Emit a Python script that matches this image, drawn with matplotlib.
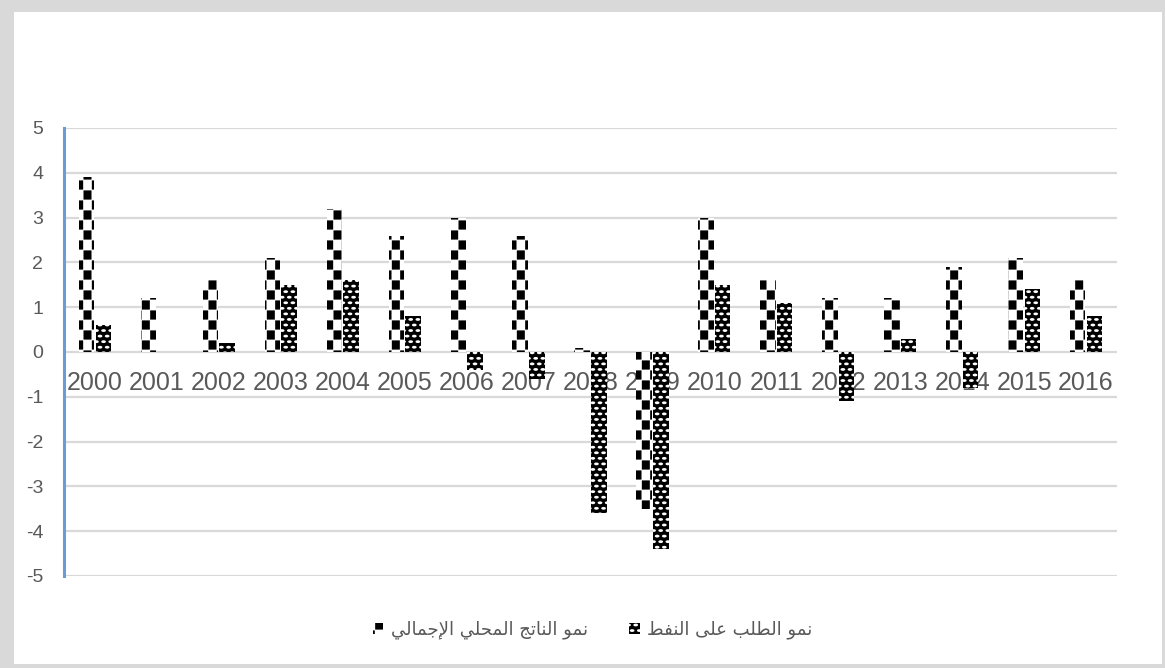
import numpy as np
import matplotlib
matplotlib.use("Agg")
import matplotlib.pyplot as plt
import matplotlib.hatch as mhatch
from matplotlib.path import Path
from matplotlib.patches import Rectangle, Patch

# ---------------- data ----------------
years = ["2000", "2001", "2002", "2003", "2004", "2005", "2006", "2007", "2008",
         "2009", "2010", "2011", "2012", "2013", "2014", "2015", "2016"]
gdp_growth = [3.9, 1.2, 1.6, 2.1, 3.2, 2.6, 3.0, 2.6, 0.1, -3.5, 3.0, 1.6, 1.2, 1.2, 1.9, 2.1, 1.6]
oil_demand_growth = [0.6, 0.0, 0.2, 1.5, 1.6, 0.8, -0.4, -0.6, -3.6, -4.4, 1.5, 1.1, -1.1, 0.3, -0.8, 1.4, 0.8]
y_ticks = [-5, -4, -3, -2, -1, 0, 1, 2, 3, 4, 5]
label_gdp = "نمو الناتج المحلي الإجمالي"
label_oil = "نمو الطلب على النفط"


# ---------------- custom hatch patterns ----------------
class CheckerHatch(mhatch.HatchPatternBase):
    """Two-column staggered squares (Excel 'large checker' look), on '*'."""
    nx, ny = 6, 5

    def __init__(self, hatch, density):
        self.on = '*' in hatch
        self.num_vertices = self.nx * self.ny * 2 * 5 if self.on else 0

    def set_vertices_and_codes(self, vertices, codes):
        px, py = 1.0 / self.nx, 1.0 / self.ny
        pts = []
        for i in range(self.nx):
            for j in range(self.ny):
                for ox, oy in [(0.0, 0.0), (0.5, 0.5)]:
                    x0 = (i + ox) * px + 0.01 * px
                    x1 = x0 + 0.48 * px
                    y0 = (j + oy) * py + 0.02 * py
                    y1 = y0 + 0.46 * py
                    pts += [(x0, y0), (x1, y0), (x1, y1), (x0, y1), (x0, y0)]
        vertices[:] = pts
        codes[:] = [Path.MOVETO, Path.LINETO, Path.LINETO, Path.LINETO,
                    Path.CLOSEPOLY] * (self.nx * self.ny * 2)


class ConfettiHatch(mhatch.HatchPatternBase):
    """Staggered small ovals (drawn white on black), on '.'."""
    nx, ny = 14, 18
    nseg = 10

    def _centers(self):
        px, py = 1.0 / self.nx, 1.0 / self.ny
        cs = []
        for j in range(self.ny):
            if j % 2 == 0:
                cols = [(i + 0.5) * px for i in range(self.nx)]
            else:
                cols = [i * px for i in range(self.nx + 1)]
            for c in cols:
                cs.append((c, (j + 0.5) * py))
        return cs

    def __init__(self, hatch, density):
        self.on = '.' in hatch
        self.num_vertices = len(self._centers()) * (self.nseg + 1) if self.on else 0

    def set_vertices_and_codes(self, vertices, codes):
        px, py = 1.0 / self.nx, 1.0 / self.ny
        rx, ry = 0.34 * px, 0.26 * py
        t = np.linspace(0, 2 * np.pi, self.nseg, endpoint=False)
        pts, cds = [], []
        for cx, cy in self._centers():
            for k in range(self.nseg):
                pts.append((cx + rx * np.cos(t[k]), cy + ry * np.sin(t[k])))
            pts.append((cx + rx, cy))
            cds += [Path.MOVETO] + [Path.LINETO] * (self.nseg - 1) + [Path.CLOSEPOLY]
        vertices[:] = pts
        codes[:] = cds


mhatch._hatch_types[:] = [CheckerHatch, ConfettiHatch]
plt.rcParams['hatch.linewidth'] = 0.01


# ---------------- minimal Arabic shaping ----------------
FORMS = {
    '\u0627': ('\uFE8D', '\uFE8E', None, None),
    '\u0625': ('\uFE87', '\uFE88', None, None),
    '\u0628': ('\uFE8F', '\uFE90', '\uFE91', '\uFE92'),
    '\u062A': ('\uFE95', '\uFE96', '\uFE97', '\uFE98'),
    '\u062C': ('\uFE9D', '\uFE9E', '\uFE9F', '\uFEA0'),
    '\u062D': ('\uFEA1', '\uFEA2', '\uFEA3', '\uFEA4'),
    '\u0637': ('\uFEC1', '\uFEC2', '\uFEC3', '\uFEC4'),
    '\u0639': ('\uFEC9', '\uFECA', '\uFECB', '\uFECC'),
    '\u0641': ('\uFED1', '\uFED2', '\uFED3', '\uFED4'),
    '\u0644': ('\uFEDD', '\uFEDE', '\uFEDF', '\uFEE0'),
    '\u0645': ('\uFEE1', '\uFEE2', '\uFEE3', '\uFEE4'),
    '\u0646': ('\uFEE5', '\uFEE6', '\uFEE7', '\uFEE8'),
    '\u0648': ('\uFEED', '\uFEEE', None, None),
    '\u0649': ('\uFEEF', '\uFEF0', None, None),
    '\u064A': ('\uFEF1', '\uFEF2', '\uFEF3', '\uFEF4'),
    'LA': ('\uFEFB', '\uFEFC', None, None),
    'LAI': ('\uFEF9', '\uFEFA', None, None),
}


def shape_arabic(text):
    units, i = [], 0
    while i < len(text):
        c = text[i]
        if c == '\u0644' and i + 1 < len(text) and text[i + 1] in ('\u0627', '\u0625'):
            units.append('LA' if text[i + 1] == '\u0627' else 'LAI')
            i += 2
        else:
            units.append(c)
            i += 1
    out = []
    for k, u in enumerate(units):
        if u not in FORMS:
            out.append(u)
            continue
        f = FORMS[u]
        prev = units[k - 1] if k > 0 else None
        nxt = units[k + 1] if k + 1 < len(units) else None
        jp = prev in FORMS and FORMS[prev][2] is not None
        jn = nxt in FORMS and f[2] is not None
        if jp and jn:
            out.append(f[3])
        elif jp:
            out.append(f[1])
        elif jn:
            out.append(f[2])
        else:
            out.append(f[0])
    return ''.join(reversed(out))


# ---------------- figure ----------------
W, H = 1165, 668
fig = plt.figure(figsize=(W / 100, H / 100), dpi=100)
fig.patch.set_facecolor('#d9d9d9')
fig.patches.append(Rectangle((14 / W, 4 / H), (1162 - 14) / W, (664 - 12) / H,
                             transform=fig.transFigure, facecolor='white',
                             edgecolor='none', zorder=-10))

ax = fig.add_axes([64 / W, 1 - 576 / H, (1117 - 64) / W, (576 - 128) / H])
ax.set_facecolor('none')
ax.set_zorder(1)

# spines first (moving a spine resets the ticks)
for s in ['top', 'right']:
    ax.spines[s].set_visible(False)
ax.spines['bottom'].set_position(('data', 0))
ax.spines['bottom'].set_visible(False)
ax.spines['left'].set_color('#6b9bd2')
ax.spines['left'].set_linewidth(2.2)

x = np.arange(len(years))
bw = 0.25
off = 0.135
ax.bar(x - off, gdp_growth, width=bw, facecolor='white', edgecolor='black',
       linewidth=0, hatch='*', zorder=3)
ax.bar(x + off, oil_demand_growth, width=bw, facecolor='black', edgecolor='white',
       linewidth=0, hatch='.', zorder=3)

ax.set_xlim(-0.5, len(years) - 0.5)
ax.set_ylim(-5, 5)
ax.set_yticks(y_ticks)
ax.set_xticks(x)
ax.tick_params(axis='y', length=0, pad=15, labelsize=14, labelcolor='#595959')
ax.tick_params(axis='x', length=0, pad=14, labelsize=18, labelcolor='#595959')
ax.set_yticklabels([str(v) for v in y_ticks])
ax.set_xticklabels(years)
for lab in ax.get_xticklabels() + ax.get_yticklabels():
    lab.set_fontfamily('Liberation Sans')

ax.yaxis.grid(True, color='#d9d9d9', linewidth=1.6)
ax.set_axisbelow(True)

handles = [Patch(facecolor='white', edgecolor='black', linewidth=0, hatch='*'),
           Patch(facecolor='black', edgecolor='white', linewidth=0, hatch='.')]
leg = fig.legend(handles, [shape_arabic(label_gdp), shape_arabic(label_oil)],
                 loc='center', bbox_to_anchor=(0.5086, 1 - 630 / H), ncol=2,
                 frameon=False, handlelength=0.6, handleheight=0.6,
                 handletextpad=0.4, columnspacing=2.3,
                 prop={'family': ['DejaVu Sans'], 'size': 13})
for t in leg.get_texts():
    t.set_color('#595959')

fig.savefig('out.png', dpi=100, facecolor=fig.get_facecolor())
